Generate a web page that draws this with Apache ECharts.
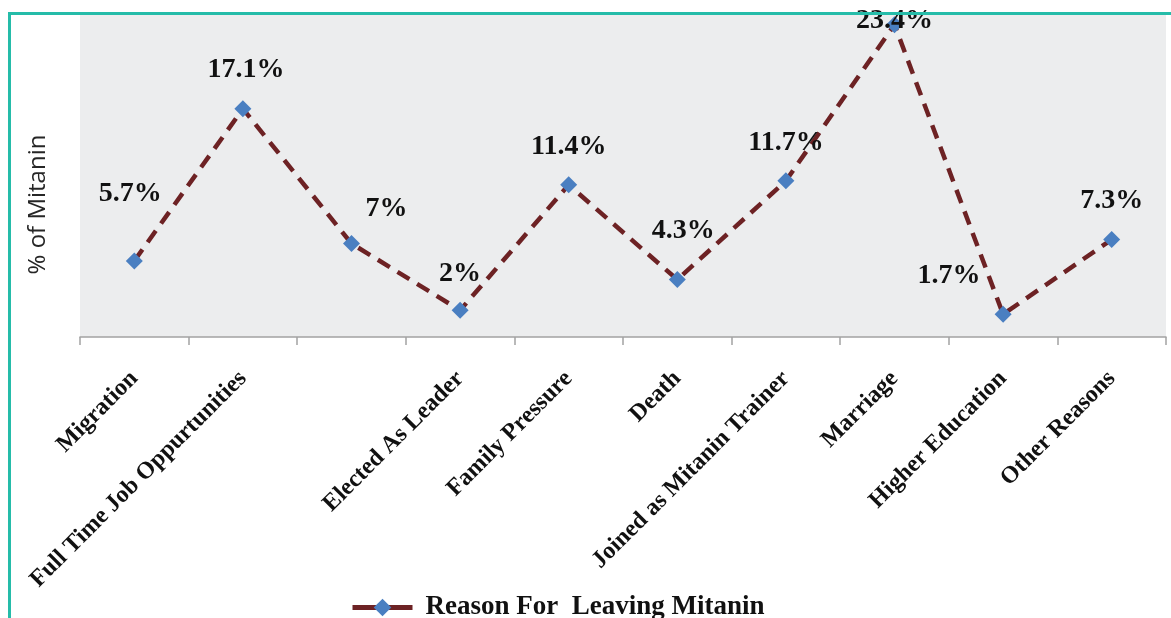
<!DOCTYPE html>
<html>
<head>
<meta charset="utf-8">
<script src="https://cdn.jsdelivr.net/npm/echarts@6/dist/echarts.min.js"></script>
<style>
  html, body { margin: 0; padding: 0; background: #ffffff; }
  #chart { width: 1171px; height: 618px; }
</style>
</head>
<body>
<div id="chart"></div>
<script>
// Reasons given for leaving the Mitanin programme (% of Mitanin)
const reasons = [
  'Migration',
  'Full Time Job Oppurtunities',
  '',
  'Elected As Leader',
  'Family Pressure',
  'Death',
  'Joined as Mitanin Trainer',
  'Marriage',
  'Higher Education',
  'Other Reasons'
];
const percentMitanin = [5.7, 17.1, 7, 2, 11.4, 4.3, 11.7, 23.4, 1.7, 7.3];
const seriesName = 'Reason For  Leaving Mitanin';
const axisTitle = '% of Mitanin';

// Per-point nudges for the value labels so they clear the dashed line
const labelNudge = [
  [-4, -29], [3, 0], [35, 4], [0, 2], [0, 0],
  [6, -10], [0, 0], [0, 35], [-54, 0], [0, 0]
];

const serif = "'Liberation Serif', 'Times New Roman', serif";

const chart = echarts.init(document.getElementById('chart'), null, { renderer: 'canvas' });

chart.setOption({
  backgroundColor: '#ffffff',
  animation: false,
  grid: {
    left: 80, right: 5, top: 14, bottom: 281,
    show: true, backgroundColor: '#ecedee', borderWidth: 0
  },
  xAxis: {
    type: 'category',
    data: reasons,
    boundaryGap: true,
    axisLine: { lineStyle: { color: '#a3a3a3', width: 1.5 } },
    axisTick: { show: true, length: 8, lineStyle: { color: '#a3a3a3', width: 1.5 } },
    axisLabel: {
      interval: 0, rotate: 45, margin: 38,
      fontFamily: serif, fontWeight: 'bold', fontSize: 24, color: '#111111'
    },
    splitLine: { show: false }
  },
  yAxis: {
    type: 'value',
    min: 0, max: 24.2,
    name: axisTitle,
    nameLocation: 'middle',
    nameRotate: 90,
    nameGap: 30,
    nameTextStyle: {
      fontFamily: "'Open Sans', 'Liberation Sans', sans-serif", fontSize: 24, color: '#262626',
      padding: [0, 58, 0, 0]
    },
    axisLine: { show: false },
    axisTick: { show: false },
    axisLabel: { show: false },
    splitLine: { show: false }
  },
  legend: {
    left: 345, top: 589,
    itemWidth: 60, itemHeight: 22,
    lineStyle: { width: 5, type: 'solid' },
    textStyle: {
      fontFamily: serif, fontWeight: 'bold', fontSize: 27, color: '#111111',
      padding: [0, 0, 0, 8]
    },
    data: [seriesName]
  },
  series: [{
    name: seriesName,
    type: 'line',
    data: percentMitanin.map((v, i) => ({
      value: v,
      label: { offset: labelNudge[i] }
    })),
    symbol: 'diamond',
    symbolSize: 17,
    itemStyle: { color: '#4a7fc1' },
    lineStyle: { color: '#6d2224', width: 4.5, type: [14, 9], cap: 'butt' },
    label: {
      show: true,
      position: 'top',
      distance: 16,
      formatter: p => p.value + '%',
      fontFamily: serif, fontWeight: 'bold', fontSize: 28, color: '#111111'
    },
    z: 3
  }],
  graphic: [
    { type: 'rect', shape: { x: 8, y: 12, width: 1163, height: 3 }, style: { fill: '#25bca9' }, z: 100 },
    { type: 'rect', shape: { x: 8, y: 12, width: 3, height: 606 }, style: { fill: '#25bca9' }, z: 100 }
  ]
});
</script>
</body>
</html>
